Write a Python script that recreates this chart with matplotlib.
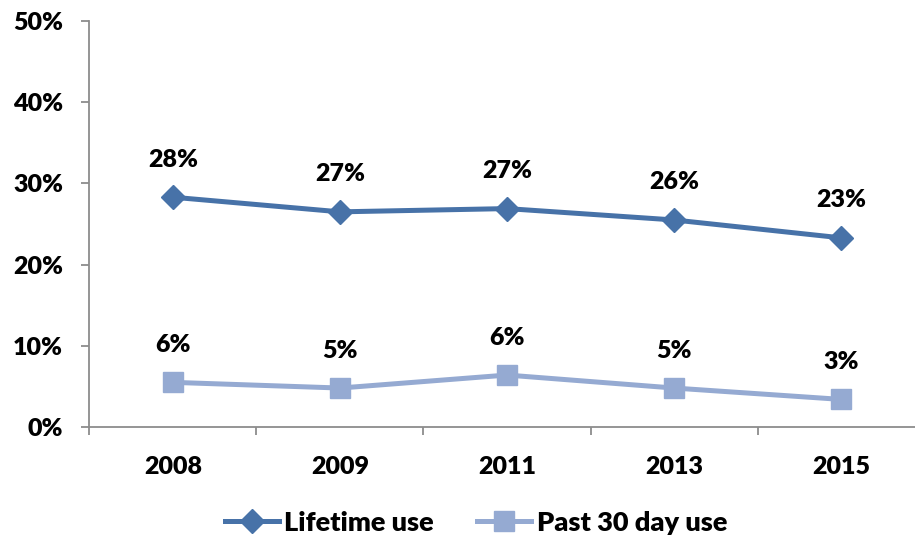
import matplotlib
matplotlib.use("Agg")
import matplotlib.pyplot as plt
from matplotlib.ticker import FuncFormatter

plt.rcParams['font.family'] = ['Lato', 'DejaVu Sans']
plt.rcParams['font.weight'] = 'heavy'

years = ['2008', '2009', '2011', '2013', '2015']
lifetime = [28.3, 26.5, 26.9, 25.5, 23.3]
past30 = [5.5, 4.8, 6.4, 4.8, 3.4]
lifetime_labels = ['28%', '27%', '27%', '26%', '23%']
past30_labels = ['6%', '5%', '6%', '5%', '3%']

dark = '#4772A8'
light = '#95AAD2'
axis_col = '#8C8C8C'
fs = 18
fw = 'heavy'

fig = plt.figure(figsize=(9.15, 5.38), dpi=100)
ax = fig.add_axes([0.0978, 0.2063, 0.9126, 0.7546])

x = list(range(len(years)))
ax.plot(x, lifetime, color=dark, lw=3.6, marker='D', ms=12.5, label='Lifetime use')
ax.plot(x, past30, color=light, lw=3.6, marker='s', ms=14, label='Past 30 day use')

for xi, v, s in zip(x, lifetime, lifetime_labels):
    ax.annotate(s, (xi, v), xytext=(0, 27), textcoords='offset points',
                ha='center', va='center', fontsize=fs, fontweight=fw)
for xi, v, s in zip(x, past30, past30_labels):
    ax.annotate(s, (xi, v), xytext=(0, 27), textcoords='offset points',
                ha='center', va='center', fontsize=fs, fontweight=fw)

ax.set_xlim(-0.5, 4.5)
ax.set_ylim(0, 50)
ax.set_yticks([0, 10, 20, 30, 40, 50])
ax.yaxis.set_major_formatter(FuncFormatter(lambda v, p: f'{v:.0f}%'))
ax.set_xticks(x)
ax.set_xticklabels(years)
ax.set_xticks([i + 0.5 for i in range(-1, 5)], minor=True)

for side in ['top', 'right']:
    ax.spines[side].set_visible(False)
for side in ['left', 'bottom']:
    ax.spines[side].set_color(axis_col)
    ax.spines[side].set_linewidth(1.3)

ax.tick_params(axis='y', length=6, width=1.3, color=axis_col, pad=13, labelsize=fs)
ax.tick_params(axis='x', which='major', length=0, pad=21, labelsize=fs)
ax.tick_params(axis='x', which='minor', length=6, width=1.3, color=axis_col)
for lab in ax.get_xticklabels() + ax.get_yticklabels():
    lab.set_fontweight(fw)

fig.legend(loc='center', bbox_to_anchor=(0.52, 0.028), ncol=2, frameon=False,
           handlelength=2.0, columnspacing=1.6, handletextpad=0.2,
           prop={'weight': fw, 'size': 19.5})

fig.savefig('out.png', dpi=100)
